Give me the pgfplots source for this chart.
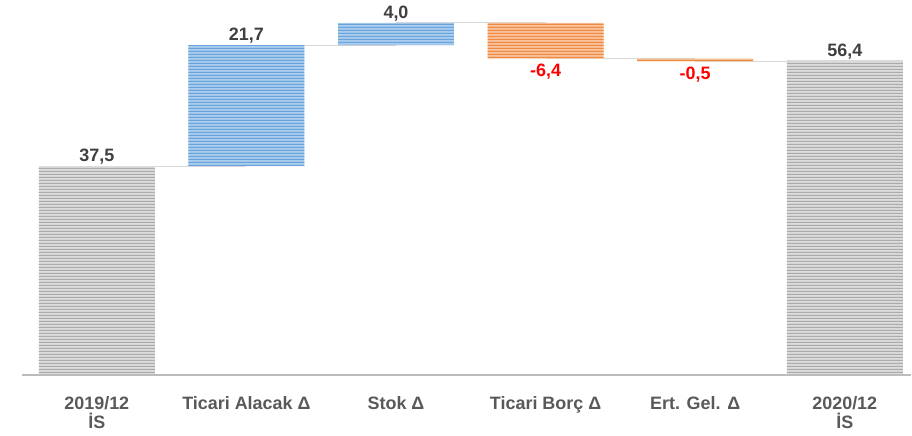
\documentclass[border=0pt]{standalone}
\usepackage{pgfplots}
\pgfplotsset{compat=1.18}
\usepackage{fontspec}
\setmainfont{Liberation Sans}
\usetikzlibrary{patterns}
\pgfdeclarepatternformonly{hstripes}{\pgfpointorigin}{\pgfqpoint{1200bp}{3bp}}{\pgfqpoint{1200bp}{3bp}}{%
  \pgfpathrectangle{\pgfpointorigin}{\pgfqpoint{1200bp}{1.6bp}}\pgfusepath{fill}}
\definecolor{grayA}{HTML}{DCDCDC}
\definecolor{grayB}{HTML}{ABABAB}
\definecolor{blueA}{HTML}{AACCEE}
\definecolor{blueB}{HTML}{6AA4DB}
\definecolor{orA}{HTML}{F9C29C}
\definecolor{orB}{HTML}{F08A40}
\definecolor{lab}{HTML}{595959}
\definecolor{val}{HTML}{404040}
\definecolor{conn}{HTML}{D9D9D9}
\pgfplotsset{
  common/.style={
    scale only axis, width=888.6bp, height=375bp,
    xmin=-0.5, xmax=5.44, ymin=0, ymax=67.3,
    at={(0,0)}, anchor=south west,
  }
}
\begin{document}
\begin{tikzpicture}
\path[use as bounding box] (-22bp,-61bp) rectangle (890bp,375bp);
% connectors and value labels
\begin{axis}[common, axis lines=none, clip=false,
  unbounded coords=jump,
  every node near coord/.style={font=\fontsize{18}{20}\selectfont\bfseries}]
\addplot[conn, line width=1bp, mark=none] coordinates {
 (0,37.5) (1,37.5) (nan,nan)
 (1,59.2) (2,59.2) (nan,nan)
 (2,63.2) (3,63.2) (nan,nan)
 (3,56.8) (4,56.8) (nan,nan)
 (4,56.3) (5,56.3)};
\addplot[draw=none, mark=none, nodes near coords, point meta=explicit symbolic,
  nodes near coords style={text=val, anchor=south, inner sep=1.5bp}] coordinates {
 (0,37.5)[37,5] (1,59.2)[21,7] (2,63.2)[4,0] (5,56.4)[56,4]};
\addplot[draw=none, mark=none, nodes near coords, point meta=explicit symbolic,
  nodes near coords style={text=red, anchor=north, inner sep=5bp}] coordinates {
 (3,56.8)[-6,4] (4,56.3)[-0,5]};
\end{axis}
% bars
\begin{axis}[common, ybar stacked, bar width=0.775,
  axis x line=bottom, axis y line=none, axis on top,
  x axis line style={draw=grayB!80, line width=1.8bp, -},
  xtick={0,1,2,3,4,5}, major tick length=0, ytick=\empty,
  xticklabels={{2019/12\\İS}, {Ticari Alacak Δ}, {Stok Δ}, {Ticari Borç Δ}, {Ert. Gel. Δ}, {2020/12\\İS}},
  xticklabel style={align=center, text=lab, font=\fontsize{18}{19}\selectfont\bfseries, yshift=-18bp},
]
\addplot[draw=none, fill=none] coordinates {(0,0) (1,37.5) (2,59.2) (3,56.8) (4,56.3) (5,0)};
\addplot[draw=none, fill=grayA, postaction={pattern=hstripes, pattern color=grayB}]
 coordinates {(0,37.5) (1,0) (2,0) (3,0) (4,0) (5,56.4)};
\addplot[draw=none, fill=blueA, postaction={pattern=hstripes, pattern color=blueB}]
 coordinates {(0,0) (1,21.7) (2,4.0) (3,0) (4,0) (5,0)};
\addplot[draw=none, fill=orA, postaction={pattern=hstripes, pattern color=orB}]
 coordinates {(0,0) (1,0) (2,0) (3,6.4) (4,0.5) (5,0)};
\end{axis}
\end{tikzpicture}
\end{document}
